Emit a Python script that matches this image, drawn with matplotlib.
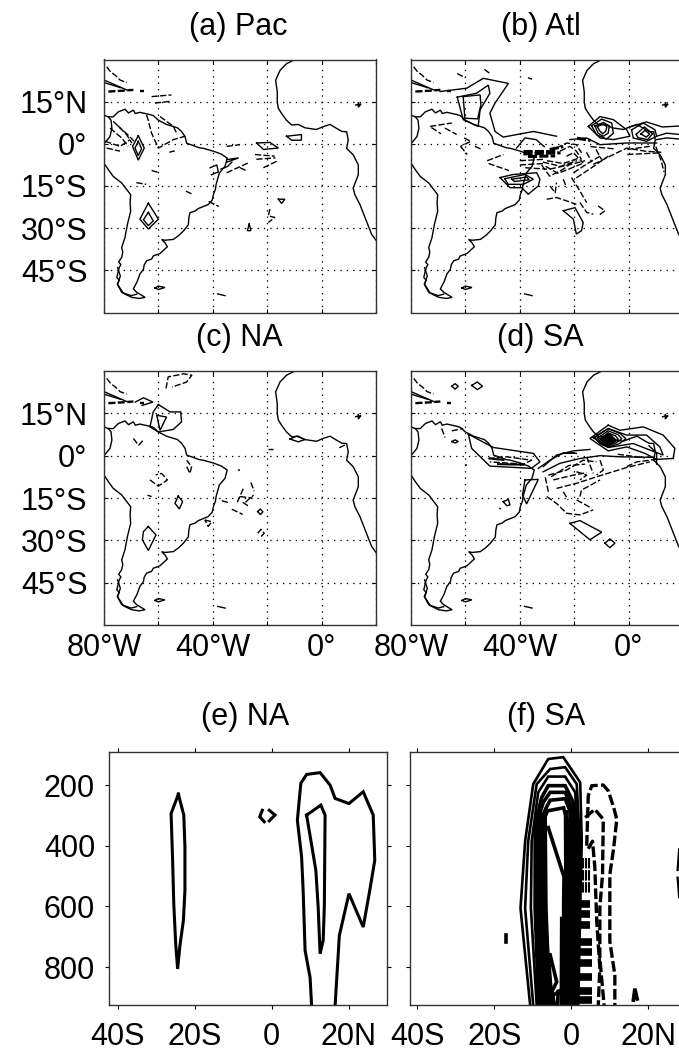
import matplotlib
matplotlib.use("Agg")
import matplotlib.pyplot as plt

plt.rcParams['font.family'] = ['Liberation Sans', 'DejaVu Sans']
W, H = 679, 1053

# ---------- map labels ----------
LON_TICKS = [-80, -60, -40, -20, 0, 20]
LON_LABELS = ['80°W', '', '40°W', '', '0°', '']
LAT_TICKS = [15, 0, -15, -30, -45]
LAT_LABELS = ['15°N', '0°', '15°S', '30°S', '45°S']
SEC_XTICKS = [-40, -20, 0, 20]
SEC_XLABELS = ['40S', '20S', '0', '20N']
SEC_YTICKS = [200, 400, 600, 800]

# ---------- coastlines (lon, lat) ----------
COAST_SA_N = [(-80, 10.2), (-78.4, 9.6), (-77.4, 8.4), (-77.1, 5.5), (-77.8, 2.6), (-79.3, 0.8), (-80, 0.2)]
COAST_SA = [(-80, -6.9), (-78.4, -9.2), (-76.6, -11.6), (-73.5, -13.9), (-70.2, -18.1), (-70.4, -21), (-70.2, -24),
            (-71.4, -28.7), (-72.3, -33.4), (-73.5, -36.9), (-73.1, -38.5), (-73.5, -40.4), (-74.6, -42), (-73.8, -43),
            (-74.4, -44), (-75.3, -47.5), (-74.4, -48.5), (-75.1, -49.9), (-73.5, -52.8), (-72, -53.6), (-69.8, -54.6),
            (-67, -55), (-64.9, -54.6), (-68, -52.8), (-69.2, -51.6), (-67.8, -49), (-66.8, -46.3), (-65.5, -44.6),
            (-65.2, -43), (-64.3, -41.6), (-62.5, -41), (-61.9, -39.9), (-59.4, -39), (-56.7, -36.6), (-57.5, -35.3),
            (-58.8, -34), (-57.6, -34.3), (-54.5, -34), (-52.5, -32.6), (-50.8, -31), (-49, -28.8), (-48.8, -26.3),
            (-48.4, -24.5), (-46.5, -23.9), (-45.3, -23), (-41.7, -21.6), (-40.2, -20), (-39.8, -18.1), (-39, -16),
            (-38.8, -14.5), (-37.6, -10.4), (-35.5, -8), (-34.7, -5.1), (-36.8, -3.7), (-39.5, -2.7), (-43.5, -1.6),
            (-45, -1.4), (-47.2, -0.6), (-49.6, 0.2), (-50.2, 2.6), (-51.5, 4.4), (-53, 5.7), (-57, 6.9), (-60, 8.4),
            (-61.8, 10), (-63.1, 10.4), (-66.8, 11.2), (-68.5, 10.8), (-69.2, 12), (-71, 11), (-72.3, 12.3),
            (-74.7, 11.4), (-76.6, 9.6), (-78.4, 9.6)]
COAST_FUEGO = [(-75, -44), (-74, -47), (-75, -50), (-73, -53), (-70, -54), (-68, -53.5)]
COAST_AFRICA = [(-9.8, 30), (-12.9, 28.5), (-15.3, 26.1), (-16.9, 22.6), (-16.3, 18.5), (-16.3, 14.9), (-15.9, 12.6),
                (-14.5, 10.5), (-12.9, 8.4), (-11, 6.7), (-8.6, 6.9), (-6.1, 5.7), (-1.9, 5.1), (0.6, 6.1), (3.1, 6.9),
                (5.5, 5.5), (7.5, 4.4), (9.2, 4.3), (9.8, 1.4), (9.2, -1.6), (11.6, -3.9), (13.5, -7.5), (13.5, -11),
                (11.6, -15.7), (12.2, -18), (14.1, -21.6), (16, -26.3), (18.4, -32.2), (20, -34.3)]
ISLE_BAHAMA = [(-79, 27.4), (-77.5, 25.5), (-76, 24.5), (-74.1, 22.7), (-71.7, 21.8)]
ISLE_CUBA = [(-80, 22.7), (-76, 21), (-71.7, 19.2)]
ISLE_CUBA2 = [(-80, 21.8), (-74, 20)]
ISLE_HISP = [(-78.4, 18.6), (-73, 18.9), (-69.2, 19.2)]
ISLE_PR = [(-66.8, 18.7), (-65.4, 18.7)]
ISLE_FALK = [(-61.3, -51.3), (-60, -50.6), (-57.6, -51.1), (-60, -51.8), (-61.3, -51.3)]
ISLE_GEORGIA = [(-38.2, -53.4), (-35.5, -54)]
LAKE_CHAD = [(12.5, 13.8), (14.5, 14.2), (13.5, 13), (13.5, 14.6)]

# ---------- panel (a) Pac ----------
A_SOLID = [
    [(-67.4, 2.9), (-65.2, -1.5), (-67.4, -5.8), (-69.5, -0.9), (-67.4, 2.9)],
    [(-67.4, 0.9), (-66.2, -1.7), (-67.4, -4.2), (-68.6, -1.5), (-67.4, 0.9)],
    [(-63.7, -21.1), (-60, -26.8), (-63.7, -30.3), (-66.8, -26.8), (-63.7, -21.1)],
    [(-63.7, -24.4), (-61.9, -27.4), (-63.7, -29.1), (-65.5, -27), (-63.7, -24.4)],
    [(-23.9, 0.3), (-19, 0.5), (-15.9, -1.5), (-21.4, -2), (-23.9, 0.3)],
    [(-12.9, 2.7), (-7.4, 3.3), (-7.4, 1.3), (-11, 1.3), (-12.9, 2.7)],
    [(-15.9, -19.7), (-13.5, -19.7), (-14.7, -21.2), (-15.9, -19.7)],
    [(-26.6, -28.5), (-26, -30.9), (-27.3, -30.9), (-26.6, -28.5)],
    [(-34.8, -5.6), (-30.5, -5), (-34.8, -6.5)],
    [(-37, -9), (-34.5, -8), (-33, -6.5)],
    [(-41, -8.5), (-38.5, -7.5), (-38, -10), (-40.5, -11)],
]
A_DASH = [
    [(-76.6, 8), (-71.7, 3.3), (-69.8, 0.3)],
    [(-77.8, 5.6), (-73.5, 2.1), (-71.1, -0.9)],
    [(-75, 6.5), (-71, 3), (-69, 1)],
    [(-79.6, 0.9), (-74.1, -0.9), (-70.4, 1.5)],
    [(-79, -1.5), (-74.1, -2.6)],
    [(-64.3, 10.3), (-62.5, 3.8), (-60, -1.5), (-54.5, 1.5), (-50.2, 2.7)],
    [(-59.4, 9.7), (-54.5, 6.2), (-53.3, 3.8)],
    [(-62.5, 16.8), (-55.2, 17.4)],
    [(-61.3, 14.5), (-55.8, 15.1)],
    [(-34.9, -0.9), (-30, -0.3)],
    [(-24.5, -3.8), (-17.2, -4.4)],
    [(-24, -5.5), (-17, -5)],
    [(-21.4, -8.5), (-16.5, -6.2)],
    [(-34.9, -10.3), (-27, -6.8)],
    [(-30, -8.5), (-27.5, -9.6)],
    [(-62.5, -9.5), (-59.5, -10.3)],
    [(-68.1, -13.8), (-64.5, -14.4)],
    [(-49.9, -16.8), (-47.4, -18)],
    [(-41.5, -20.5), (-37.8, -22.3)],
    [(-19, -23.2), (-19.6, -25.6), (-17.2, -26.2), (-19.6, -28)],
    [(-56, -3), (-54, -2.5)],
]

# ---------- panel (b) Atl ----------
B_SOLID = [
    [(-69.3, 18.6), (-59.5, 19.8), (-53.4, 23.3), (-44.2, 21.5), (-49.1, 14.5), (-51, 10.9), (-49.1, 4.4), (-46.1, 2.4), (-35, 4.4), (-26.5, 2.7)],
    [(-63, 16.6), (-55.9, 18), (-51.6, 20.9), (-51, 18), (-54.6, 12.1), (-55.3, 6.2), (-60.8, 8.6), (-63, 16.6)],
    [(-60.8, 16.8), (-54.6, 17.4), (-54.3, 13.9), (-55.5, 8.9), (-60.2, 9.1), (-60.8, 16.8)],
    [(-14.8, 6.2), (-10.5, 9.7), (-5.6, 8.6), (-0.7, 5), (0.5, 2.7), (-5.6, 1.5), (-10.5, 2.1), (-14.8, 6.2)],
    [(-13.6, 6.4), (-9.9, 8.8), (-6.2, 7.4), (-5.6, 3.8), (-8.1, 1.7), (-11.8, 3.3), (-13.6, 6.4)],
    [(-12.4, 6.4), (-9.3, 7.6), (-7.1, 6.4), (-7.5, 3.8), (-9.3, 2.7), (-11.2, 3.8), (-12.4, 6.4)],
    [(-11.5, 6.2), (-9.3, 7), (-8, 6), (-8.4, 4.5), (-9.5, 3.6), (-10.6, 4.6), (-11.5, 6.2)],
    [(1.1, 5), (5.4, 7.4), (9.7, 5), (10.3, 2.7), (6.6, 0.9), (1.7, 2.1), (1.1, 5)],
    [(2.8, 3.4), (5.8, 6), (8.8, 3.6), (7, 1.5), (3.4, 2.2), (2.8, 3.4)],
    [(4.5, 3.5), (6, 4.8), (7.8, 3.5), (6.5, 2.4), (4.5, 3.5)],
    [(0.5, 6), (6.5, 7.8), (12.4, 6), (20, 6.4)],
    [(10.3, 2.7), (14, 3.8), (20, 3.2)],
    [(10.3, 1.5), (14, 2.1), (20, 1.6)],
    [(-41.2, -1.5), (-38.1, 2.1), (-34, 1.5), (-31, -1)],
    [(-47.3, -12), (-42.4, -10.9), (-33.8, -10.3), (-32.6, -12.6), (-33.2, -15), (-36.9, -17.9), (-39.3, -15.6), (-43.6, -15.6), (-47.3, -12)],
    [(-45.5, -12.4), (-38.1, -10.9), (-35, -12.6), (-38.7, -14.4), (-44.3, -14.4), (-45.5, -12.4)],
    [(-43, -12.6), (-37.5, -11.8), (-36.5, -12.8), (-42, -13.4), (-43, -12.6)],
    [(-24, -23.8), (-19.7, -22.7), (-16.7, -28), (-17.3, -30.9), (-19.2, -32.1), (-20.3, -26.8), (-24, -23.8)],
    [(-21.6, 1.5), (-15.5, 2.1), (-10.5, -0.3), (-0.7, 0.3), (10.3, 0.3)],
]
B_DASH = [
    [(-73, 6.2), (-65, 7.4)],
    [(-72.5, 5.8), (-69, 3.6)],
    [(-67.5, 5.6), (-63.2, 3.3)],
    [(-61.8, -0.9), (-59.3, -3.8)],
    [(-60.5, 2.1), (-58, 0.9), (-61.8, -0.9)],
    [(-56.5, -0.9), (-54, -2)],
    [(-52, -6), (-46, -3.8)],
    [(-51.5, -7), (-44, -9.5)],
    [(-32, -7.5), (-29, -11.5), (-24, -9), (-20, -6)],
    [(-30, -6), (-24, -7), (-18, -5)],
    [(-29, -9), (-22, -7.5), (-16, -6)],
    [(-30.5, -8), (-26, -10.5), (-22, -9), (-17, -7)],
    [(-31.5, -6.5), (-25, -8), (-19, -6)],
    [(-26.5, -1.5), (-22.8, 0.3), (-19.2, -0.3), (-17.3, -3.2)],
    [(-25.2, -2.6), (-21.6, -0.9), (-19.2, -2.6), (-17.3, -5.6)],
    [(-22.8, -4.4), (-20.3, -3.2), (-16.7, -6.8)],
    [(-13, -7.3), (-8.1, -5), (-0.7, -1.5), (6, -2.6), (12, -3)],
    [(-19.2, -12.1), (-13.6, -8.5), (-7.5, -4.4)],
    [(-20.3, -10.3), (-14.8, -6.8), (-10.5, -4.4)],
    [(-15.5, -3), (-13.5, -6.5)],
    [(-12, -2), (-10, -5.5)],
    [(-0.5, -3.8), (11.5, -3.2)],
    [(-0.5, -2), (7.8, -0.9)],
    [(-14, -1), (-5, -1.8)],
    [(-30.1, -19.7), (-26.5, -19.1), (-22.8, -20.3), (-19.2, -21.5)],
    [(-28.9, -15), (-27, -17.4), (-26.5, -13.8)],
    [(-24, -12.6), (-22.8, -15.6)],
    [(-21, -12), (-17.9, -16.8), (-15.4, -20.9)],
    [(-17.9, -20.9), (-15.4, -24.4), (-13, -25)],
    [(-11.2, -22.1), (-8.7, -23.8), (-11.2, -25.6)],
    [(-40, -6), (-31, -5.5)],
    [(-40, -7.5), (-31, -7)],
    [(-38, -8.5), (-30, -9)],
    [(-63, 25), (-60, 23.5)],
    [(-53, 26.5), (-51, 25)],
    [(-37, 23.5), (-35.5, 23)],
    [(10, -1), (12, -6), (13, -10)],
]
B_THICK = [
    [(-38.7, -2.5), (-26.5, -2.5)],
    [(-38.7, -3.6), (-25, -3.2)],
    [(-37, -4.5), (-27, -4.3)],
    [(-29, -2), (-24, -1)],
    [(-19, 2), (-14, 1.2)],
]

# ---------- panel (c) NA ----------
C_SOLID = [
    [(-60, 18.1), (-55.7, 15.5), (-51.8, 15.5), (-51.5, 12), (-54.5, 9.3), (-60, 8.4), (-63.1, 10.2), (-61.9, 15.5), (-60, 18.1)],
    [(-60.6, 14.3), (-57, 13.7), (-59.4, 9), (-60.6, 14.3)],
    [(-63.7, -25.1), (-60.9, -28.1), (-63.7, -33.6), (-65.9, -29.8), (-65.5, -26.9), (-63.7, -25.1)],
    [(-52.7, -14.3), (-51.1, -16.3), (-52.3, -18.9), (-53.9, -16.9), (-52.7, -14.3)],
    [(-11.6, 5.9), (-9.2, 6.9), (-6.1, 5.7), (-8.6, 4.9), (-11.6, 5.9)],
    [(-23.5, -19.8), (-22.5, -18.9), (-21.6, -19.9), (-22.5, -20.9), (-23.5, -19.8)],
    [(-68.5, 19), (-65.5, 20.5), (-62, 19), (-66, 17.8)],
]
C_DASH = [
    [(-57.2, 23.8), (-56.4, 27.9), (-50.8, 29), (-47.7, 28.5), (-49.6, 26.1), (-55, 24.3)],
    [(-69.2, 6.1), (-67.3, 3.7), (-65.5, 5.5)],
    [(-63.1, -8.6), (-60, -10.8), (-56.7, -8.6), (-58.8, -6.3), (-61, -6.8)],
    [(-49.6, -3.9), (-48.4, -6.3), (-47.8, -3.9), (-49.6, -1.6)],
    [(-42.9, -22.8), (-40.4, -23.4), (-41.7, -25.1), (-42.9, -22.8)],
    [(-36.7, -16), (-34.2, -16.6)],
    [(-33, -19), (-29, -20.8)],
    [(-31, -16.5), (-28.5, -11)],
    [(-26, -9.5), (-24.8, -12.6)],
    [(-29, -16.5), (-27, -17.8)],
    [(-28, -16.5), (-25, -14)],
    [(-30, -14.5), (-25.5, -15)],
    [(-23.5, -27.5), (-22.3, -26.1), (-21.1, -27.5), (-22.3, -28.7)],
    [(-19.6, 2.2), (-17.8, 2.2)],
    [(-30.8, -5), (-30, -5.2)],
    [(6.5, 2.8), (9, 4)],
    [(-64, -14), (-62.5, -14.5)],
]

# ---------- panel (d) SA ----------
D_SOLID = [
    [(-58.9, 7.6), (-49.7, 2.9), (-35, 0.8), (-32.6, -2.2), (-35.7, -4.5), (-51, -3.7), (-57.7, 2.6), (-58.9, 7.6)],
    [(-38.1, -8.6), (-33.2, -8.4), (-37.5, -17.1), (-39, -13.9), (-38.1, -8.6)],
    [(-46.1, -16.3), (-44.2, -15.5), (-43.6, -17.5), (-44.8, -17.7), (-46.1, -16.3)],
    [(-21.6, -24), (-17.9, -23), (-9.9, -27.1), (-14.2, -29.8), (-21.6, -24)],
    [(-8.7, -31), (-6.9, -29.5), (-5, -31), (-6.9, -32.6), (-8.7, -31)],
    [(-65, 24.6), (-63.8, 25.5), (-62.6, 24.6), (-63.8, 23.6), (-65, 24.6)],
    [(-57.7, 24.9), (-55.6, 26.1), (-53.7, 24.6), (-55.6, 23.4), (-57.7, 24.9)],
    [(-65, 5), (-63.8, 5.6), (-62.6, 5), (-63.8, 4.5), (-65, 5)],
    [(-7.5, 10.8), (-3.2, 9), (5.4, 10.2), (12.7, 7.3), (17, 2.6), (16.4, -1), (10.3, -1.3), (6, 0.8), (-0.7, 3.1), (-7.5, 1.7), (-14.2, 6.1), (-7.5, 10.8)],
    [(-13, 6.4), (-7.5, 9.6), (-0.7, 7.3), (6.6, 7.3), (11.5, 3.1), (12.7, 0.2), (7.8, 2), (1.7, 4.3), (-7.5, 2.9), (-13, 6.4)],
    [(-12.5, 6.4), (-7.5, 9.6), (-3, 7.8), (-1, 6), (-3.5, 4.2), (-7.5, 3), (-10.5, 4.2), (-12.5, 6.4)],
    [(-11.5, 6.2), (-7.5, 8.8), (-3.8, 7.4), (-2.5, 6), (-4.5, 4.6), (-7.5, 3.4), (-10, 4.6), (-11.5, 6.2)],
    [(-10.5, 6), (-7.5, 8), (-4.8, 7), (-3.8, 5.8), (-5.2, 4.8), (-7.5, 3.8), (-9.5, 4.8), (-10.5, 6)],
    [(-31.4, -3.9), (-26.5, 0.2), (-20.3, 1.7), (-14.2, 2.2)],
    [(-33.2, -4.5), (-28.9, -1.6), (-24, 1), (-19.2, 0.8)],
    [(-31.4, -5.7), (-25.2, -2.7), (-17.9, -1), (-10.5, 0), (-3.2, -0.4), (9, -0.6)],
    [(7.5, 3.5), (10.3, 1), (10.3, -3)],
]
D_DENSE = [
    [(-10, 5.7), (-7.5, 7.9), (-5, 5.7), (-7.5, 3.5), (-10, 5.7)],
    [(-9.5, 5.7), (-7.5, 7.4), (-5.5, 5.7), (-7.5, 4), (-9.5, 5.7)],
    [(-9, 5.7), (-7.5, 7), (-6, 5.7), (-7.5, 4.4), (-9, 5.7)],
    [(-8.5, 5.7), (-7.5, 6.6), (-6.5, 5.7), (-7.5, 4.8), (-8.5, 5.7)],
    [(-8, 5.7), (-7.5, 6.2), (-7, 5.7), (-7.5, 5.2), (-8, 5.7)],
    [(-23.4, 1.1), (-20.3, 1.1)],
    [(-51, -1), (-46, -1.5)],
    [(-48, -3), (-38.7, -3.2)],
]
D_DASH = [
    [(-51.6, -1), (-44.8, -0.4), (-35.7, -1.6), (-38.7, -3), (-51, -2.2)],
    [(-29.5, -6.9), (-22.8, -5.1), (-16.7, -1.6), (-11.8, -2.2)],
    [(-26.5, -11.6), (-19.2, -9.8), (-11.8, -7.5), (-0.7, -4.2), (7.8, -2.2)],
    [(-27.7, -8.6), (-20.3, -6.9), (-15.4, -6)],
    [(-28.5, -7.5), (-22, -3.5), (-16, -3)],
    [(-29.5, -12.8), (-30.8, -6.9)],
    [(-30.1, -14.5), (-26.5, -16.9), (-22.8, -20.4), (-17.9, -21), (-13, -19.2)],
    [(-24, -12.8), (-22.2, -15.7)],
    [(-17.9, -14.5), (-17.3, -12.2), (-10.5, -8.6)],
    [(-19.1, -15.7), (-13.6, -18.6)],
    [(-15.4, -0.4), (-13, -6.3)],
    [(-10.5, -1.6), (-9.3, -5.1), (-11.8, -6.9)],
    [(-0.7, -3.9), (3, -2.2), (10.3, -1.3)],
    [(-19.2, -5.7), (-15.4, -6.9), (-17.9, -8.6)],
    [(-68.7, 9.6), (-67.5, 6.4)],
    [(-65, 8.8), (-60.8, 9.6)],
    [(-4, 0.5), (6, -0.8)],
    [(-60, -3), (-59.5, -3.5)],
    [(-47.5, -18.5), (-47, -19)],
]

# ---------- panel (e) NA : (latitude, pressure) ----------
E_SOLID = [
    [(-24.2, 230), (-26.1, 294), (-25.7, 448), (-25.4, 591), (-24.9, 723), (-24.4, 806), (-23.8, 729), (-22.9, 646),
     (-22.5, 547), (-22.5, 404), (-22.8, 299), (-24.2, 230)],
    [(10.4, 927), (10, 834), (8.7, 745), (8.2, 547), (7.8, 437), (6.7, 316), (7.6, 194), (9.1, 165), (12.6, 159),
     (15.2, 200), (16.5, 244), (20.1, 261), (23.8, 222), (26.4, 299), (26.8, 448), (25.5, 547), (23.8, 668),
     (20.1, 558), (17.6, 696), (16.5, 927)],
    [(9.1, 299), (12.8, 266), (13.9, 299), (13.7, 602), (13.4, 712), (12.6, 756), (12.1, 602), (11.5, 481), (9.1, 299)],
    [(-0.6, 283), (0.9, 299), (-0.6, 318)],
    [(-2.4, 283), (-3, 302)],
    [(-2.9, 307), (-1.9, 321)],
]

# ---------- panel (f) SA : (latitude, pressure) ----------
F_OUTER = [
    [(-10.7, 925), (-13.2, 606), (-12, 385), (-9.9, 197), (-6, 114), (-2.1, 108), (2.3, 191), (2.7, 385), (2.3, 606), (1.8, 925)],
    [(-9.9, 925), (-12, 606), (-11.2, 385), (-9, 197), (-5.5, 147), (-1.6, 141), (1.4, 197), (2.2, 385), (1.9, 606), (1.4, 925)],
    [(-9, 925), (-10.5, 606), (-10.3, 385), (-8.6, 224), (-6, 172), (-1.6, 172), (1, 224), (1.8, 385), (1.5, 606), (1.2, 925)],
]
F_INNER = [
    [(-8.5, 925), (-9.4, 606), (-9.4, 329), (-7.7, 241), (-6, 202), (-1.6, 202), (0.5, 257), (1.4, 385), (1.1, 606), (1, 925)],
    [(-7.8, 925), (-8.8, 606), (-9, 329), (-7.3, 257), (-5.5, 224), (-1.6, 224), (0.1, 274), (1, 385), (0.6, 606), (0.6, 925)],
    [(-7.3, 925), (-8.3, 606), (-8.6, 340), (-6.5, 274), (-5.5, 250), (-1.6, 245), (0.1, 300), (0.5, 385), (0.1, 606), (0.3, 925)],
    [(-6.8, 925), (-7.8, 606), (-8, 340), (-6.2, 285), (-2, 275), (-1, 320), (0, 385), (-0.4, 606), (-0.2, 925)],
    [(-6.2, 925), (-7.2, 606), (-7.4, 330)],
    [(-5.6, 925), (-6.6, 606), (-6.8, 310)],
    [(-5.1, 925), (-6.5, 700)],
    [(-8.8, 300), (-8.1, 925)],
    [(-7.9, 300), (-7.0, 925)],
    [(-7.2, 300), (-6.4, 850)],
    [(-1, 340), (-0.9, 606), (-0.7, 925)],
    [(-1.5, 290), (-1.4, 606), (-1.2, 925)],
    [(-1.1, 290), (-1.1, 925)],
    [(-0.2, 290), (-0.1, 925)],
    [(0.7, 290), (0.7, 925)],
    [(-1.9, 500), (-2, 606), (-1.7, 925)],
    [(-2.5, 640), (-2.6, 925)],
    [(-5, 925), (-5.8, 790)],
    [(-4.4, 925), (-5, 880)],
    [(-3.6, 925), (-3.4, 880)],
    [(-6, 340), (-2.1, 495)],
    [(-5.5, 760), (-3.8, 849), (-6, 904), (-2.1, 871)],
]
F_DASH = [
    [(4, 400), (4.4, 235), (5.3, 202), (8.3, 200), (9.6, 219), (11, 274), (11.8, 313), (11, 407), (10, 495), (10, 716), (11.3, 826), (11.3, 925)],
    [(3.6, 307), (6.1, 280), (8.3, 313), (8.1, 495), (7.4, 606), (7.4, 771), (8.5, 925)],
    [(4.4, 410), (5.5, 385), (6.1, 470), (6.6, 650), (7.4, 800), (7, 925)],
]
F_HATCH = [
    [(3.0, 440), (3.0, 560)],
    [(3.8, 440), (3.8, 560)],
    [(4.6, 440), (4.6, 560)],
]
F_ROWS_LAT = [2.3, 4.8]
F_ROWS_P = [591, 624, 661]
F_ROWS2_LAT = [1.8, 5.3]
F_ROWS2_P = [716, 749, 785, 832, 878, 909]
F_SMALL = [
    [(-17, 695), (-17, 716)],
    [(16.1, 909), (16.5, 871), (17.1, 905)],
]
F_EDGE = [
    [(28, 412), (27.6, 480)],
    [(27.6, 505), (28, 570)],
]


def make_axes(left, right, top, bottom):
    return plt.gcf().add_axes([left / W, 1 - bottom / H, (right - left) / W, (bottom - top) / H])


def draw(ax, lines, lw=1.0, dashed=False, dash=(4.5, 1.6)):
    for line in lines:
        xs, ys = zip(*line)
        kw = dict(color='black', lw=lw, solid_joinstyle='miter')
        if dashed:
            ax.plot(xs, ys, ls=(0, dash), **kw)
        else:
            ax.plot(xs, ys, **kw)


def map_panel(title, box, title_x, solid, dash, thick=(), ylabels=False, xlabels=False):
    ax = make_axes(*box)
    ax.set_xlim(-80, 20)
    ax.set_ylim(-60, 30)
    draw(ax, [COAST_SA_N, COAST_SA, COAST_FUEGO, COAST_AFRICA, ISLE_CUBA, ISLE_CUBA2, ISLE_FALK, ISLE_GEORGIA, LAKE_CHAD], lw=1.0)
    draw(ax, [ISLE_BAHAMA], lw=1.0, dashed=True)
    draw(ax, [ISLE_HISP, ISLE_PR], lw=1.7, dashed=True, dash=(3, 1))
    draw(ax, solid)
    draw(ax, dash, dashed=True)
    draw(ax, thick, lw=2.2, dashed=True, dash=(3, 0.7))
    ax.set_xticks(LON_TICKS)
    ax.set_yticks(LAT_TICKS)
    ax.set_xticklabels(LON_LABELS if xlabels else [''] * len(LON_TICKS))
    ax.set_yticklabels(LAT_LABELS if ylabels else [''] * len(LAT_TICKS))
    ax.grid(True, color='black', lw=0.9, ls=(0, (1.1, 4)))
    ax.set_axisbelow(True)
    ax.tick_params(axis='both', direction='in', top=True, right=True, length=3, width=0.8, labelsize=22)
    ax.tick_params(axis='y', pad=12)
    ax.tick_params(axis='x', pad=5.5)
    for s in ax.spines.values():
        s.set_linewidth(1.0)
        s.set_color('#333333')
    ax.set_title(title, fontsize=22, pad=18, x=(title_x - box[0]) / (box[1] - box[0]))
    return ax


def section_panel(title, box, title_x, xlim, ylabels=False):
    ax = make_axes(*box)
    ax.set_xlim(*xlim)
    ax.set_ylim(925, 90)
    ax.set_xticks(SEC_XTICKS)
    ax.set_xticklabels(SEC_XLABELS)
    ax.set_yticks(SEC_YTICKS)
    ax.set_yticklabels([str(v) for v in SEC_YTICKS] if ylabels else [''] * 4)
    ax.tick_params(axis='both', direction='out', top=True, right=True, length=3, width=0.8, labelsize=22, pad=9)
    ax.tick_params(axis='y', pad=6.8)
    for s in ax.spines.values():
        s.set_linewidth(1.0)
        s.set_color('#333333')
    ax.set_title(title, fontsize=22, pad=19.5, x=(title_x - box[0]) / (box[1] - box[0]))
    return ax


fig = plt.figure(figsize=(W / 100, H / 100), dpi=100)

map_panel('(a) Pac', (104, 376, 59.5, 312.5), 238, A_SOLID, A_DASH, ylabels=True)
map_panel('(b) Atl', (411, 683, 59.5, 312.5), 541, B_SOLID, B_DASH, thick=B_THICK)
map_panel('(c) NA', (104, 376, 371, 625), 239, C_SOLID, C_DASH, ylabels=True, xlabels=True)
ax_d = map_panel('(d) SA', (411, 683, 371, 625), 540, D_SOLID, D_DASH, xlabels=True)
draw(ax_d, D_DENSE, lw=1.5)

ax_e = section_panel('(e) NA', (108.7, 386.7, 751.7, 1005), 245, (-42.3, 29.9), ylabels=True)
draw(ax_e, E_SOLID, lw=2.2)

ax_f = section_panel('(f) SA', (410, 688, 751.7, 1005), 546, (-41.9, 30.3))
draw(ax_f, F_OUTER, lw=1.9)
draw(ax_f, F_INNER, lw=2.6)
draw(ax_f, F_DASH, lw=2.4, dashed=True, dash=(3.2, 1.0))
draw(ax_f, F_HATCH, lw=1.5, dashed=True, dash=(5, 0.8))
for p in F_ROWS_P:
    ax_f.plot(F_ROWS_LAT, [p, p], color='black', lw=5.5, solid_capstyle='butt')
for p in F_ROWS2_P:
    ax_f.plot(F_ROWS2_LAT, [p, p], color='black', lw=5.5, solid_capstyle='butt')
draw(ax_f, F_SMALL, lw=2.6)
draw(ax_f, F_EDGE, lw=1.6)

fig.savefig('out.png', dpi=100)
